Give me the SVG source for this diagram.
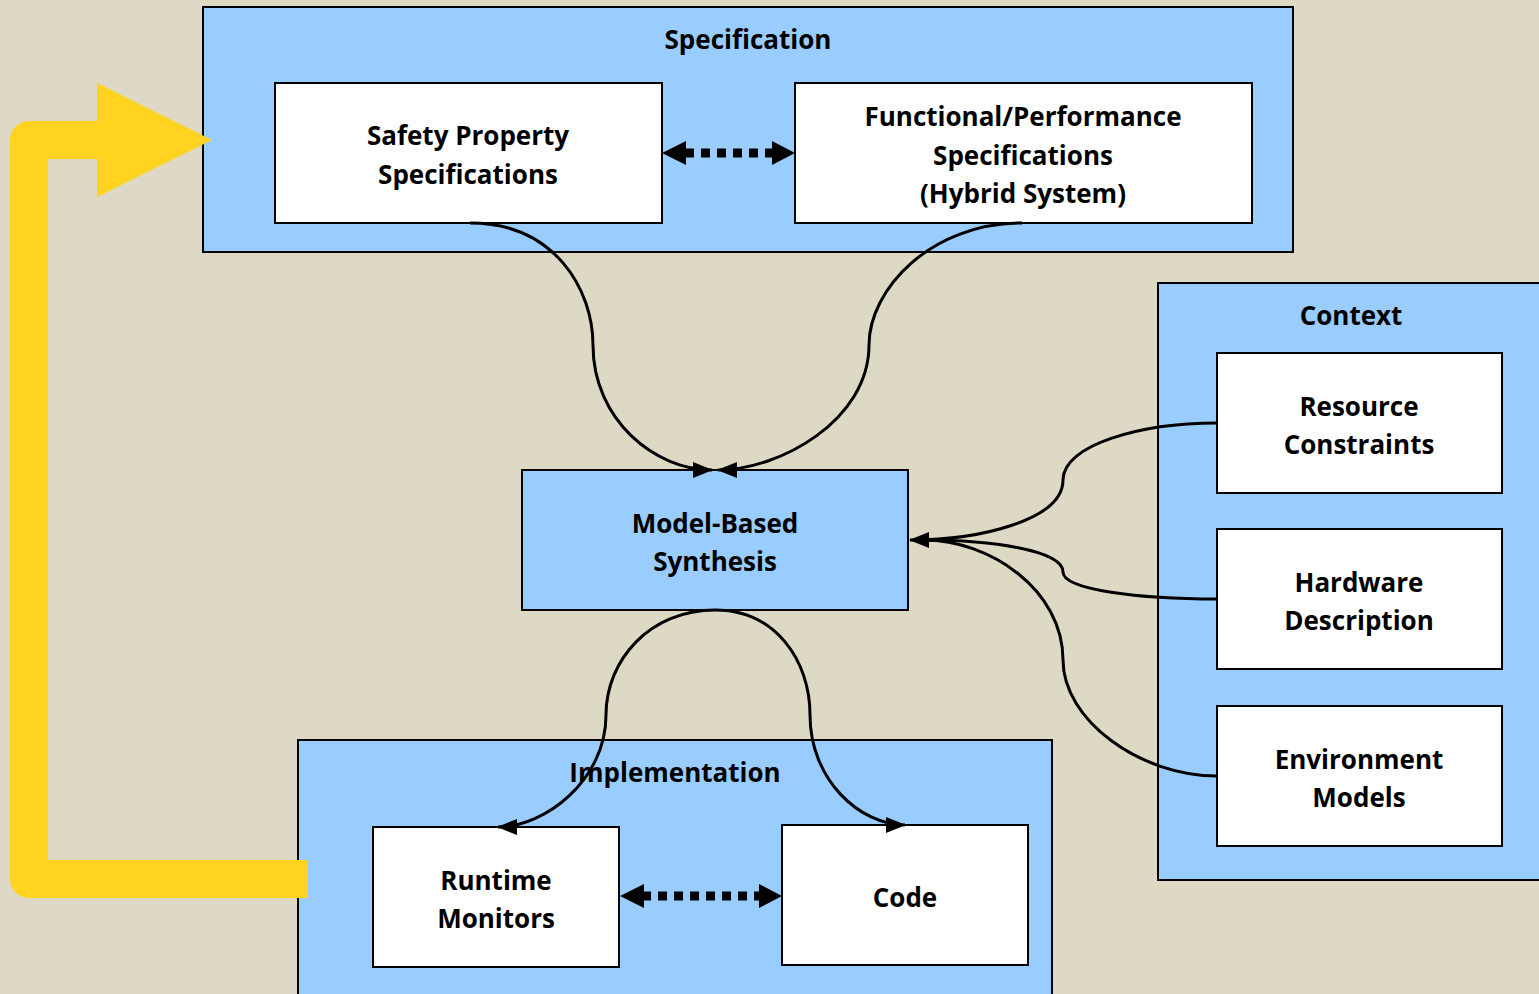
<svg xmlns="http://www.w3.org/2000/svg" width="1539" height="994" viewBox="0 0 1539 994">
<style>
.grp{fill:#99CCFF;stroke:#000;stroke-width:2}
.box{fill:#fff;stroke:#000;stroke-width:2}
.t{font-family:"Open Sans","Noto Sans",sans-serif;font-weight:bold;font-size:26px;fill:#000;text-anchor:middle}
.c{fill:none;stroke:#000;stroke-width:3}
.d{fill:none;stroke:#000;stroke-width:9;stroke-dasharray:9,7}
</style>
<defs>
<marker id="sm" viewBox="0 0 20 16" refX="19" refY="8" markerWidth="20" markerHeight="16" markerUnits="userSpaceOnUse" orient="auto">
<path d="M0,0 L20,8 L0,16 Z" fill="#000"/>
</marker>
</defs>
<rect width="1539" height="994" fill="#DDD9C4"/>
<g id="specification">
<rect class="grp" x="203" y="7" width="1090" height="245"/>
<text class="t" x="748" y="49">Specification</text>
</g>
<g id="safety">
<rect class="box" x="275" y="83" width="387" height="140"/>
<text class="t" x="468" y="145">Safety Property</text>
<text class="t" x="468" y="184">Specifications</text>
</g>
<g id="functional">
<rect class="box" x="795" y="83" width="457" height="140"/>
<text class="t" x="1023" y="126">Functional/Performance</text>
<text class="t" x="1023" y="165">Specifications</text>
<text class="t" x="1023" y="203">(Hybrid System)</text>
</g>
<g id="context">
<rect class="grp" x="1158" y="283" width="390" height="597"/>
<text class="t" x="1351" y="325">Context</text>
</g>
<g id="resource">
<rect class="box" x="1217" y="353" width="285" height="140"/>
<text class="t" x="1359" y="416">Resource</text>
<text class="t" x="1359" y="454">Constraints</text>
</g>
<g id="hardware">
<rect class="box" x="1217" y="529" width="285" height="140"/>
<text class="t" x="1359" y="592">Hardware</text>
<text class="t" x="1359" y="630">Description</text>
</g>
<g id="environment">
<rect class="box" x="1217" y="706" width="285" height="140"/>
<text class="t" x="1359" y="769">Environment</text>
<text class="t" x="1359" y="807">Models</text>
</g>
<g id="model-based">
<rect class="grp" x="522" y="470" width="386" height="140"/>
<text class="t" x="715" y="533">Model-Based</text>
<text class="t" x="715" y="571">Synthesis</text>
</g>
<g id="implementation">
<rect class="grp" x="298" y="740" width="754" height="264"/>
<text class="t" x="675" y="782">Implementation</text>
</g>
<g id="runtime">
<rect class="box" x="373" y="827" width="246" height="140"/>
<text class="t" x="496" y="890">Runtime</text>
<text class="t" x="496" y="928">Monitors</text>
</g>
<g id="code">
<rect class="box" x="782" y="825" width="246" height="140"/>
<text class="t" x="905" y="907">Code</text>
</g>
<g id="feedback">
<path d="M307,879 L29,879 L29,140 L100,140" fill="none" stroke="#FFD320" stroke-width="38" stroke-linejoin="round"/>
<path d="M97,83 L212,140 L97,197 Z" fill="#FFD320"/>
<rect x="298" y="860" width="10" height="38" fill="#FFD320"/>
</g>
<g id="connectors">
<path class="c" marker-end="url(#sm)" d="M470,223 C555,223 593,290 593,345 C593,420 655,470 712,470"/>
<path class="c" marker-end="url(#sm)" d="M1022,223 C930,223 869,290 869,345 C869,420 780,470 718,470"/>
<path class="c" marker-end="url(#sm)" d="M1217,423 C1140,423 1063,445 1063,480 C1063,520 980,540 910,540"/>
<path class="c" d="M1217,599 C1140,599 1063,590 1063,572 C1063,550 990,540 924,540"/>
<path class="c" d="M1217,776 C1140,776 1063,720 1063,660 C1063,590 990,540 924,540"/>
<path class="c" marker-end="url(#sm)" d="M715,610 C650,610 606,660 606,715 C606,780 545,827 498,827"/>
<path class="c" marker-end="url(#sm)" d="M715,610 C775,610 810,660 810,715 C810,780 860,825 905,825"/>
<path class="d" d="M685,153 L772,153"/>
<path d="M662,153 L686,141 L686,165 Z" fill="#000"/>
<path d="M795,153 L772,141 L772,165 Z" fill="#000"/>
<path class="d" d="M642,896 L760,896"/>
<path d="M620,896 L644,884 L644,908 Z" fill="#000"/>
<path d="M782,896 L759,884 L759,908 Z" fill="#000"/>
</g>
</svg>
